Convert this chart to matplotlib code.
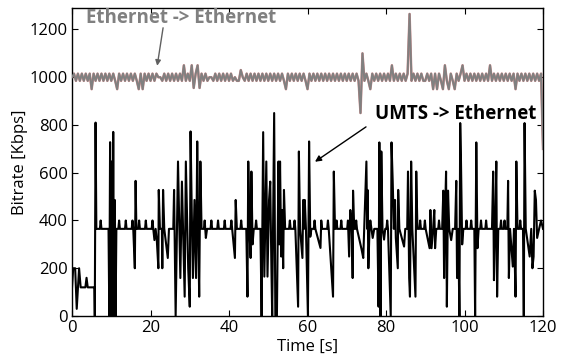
import numpy as np
import matplotlib.pyplot as plt

# Ethernet -> Ethernet, sampled every 0.5 s (Kbps)
eth_kbps = [
    1000, 1015, 985, 1015, 985, 1015, 985, 1015, 985, 1015, 950, 1015, 985, 1015, 985, 1015, 985, 1015, 985, 1015,
    985, 1015, 985, 950, 1015, 985, 1015, 985, 1015, 985, 1015, 985, 1015, 985, 950, 1015, 950, 1015, 985, 1015,
    985, 1015, 985, 1015, 1000, 1000, 985, 1015, 985, 1015, 985, 1015, 985, 1015, 985, 1015, 985, 1050, 985, 1015,
    985, 1050, 955, 1015, 1050, 955, 1015, 985, 1015, 985, 1000, 1000, 985, 1015, 985, 1015, 985, 1015, 985, 1015,
    985, 1015, 985, 1000, 985, 985, 1030, 1000, 985, 1015, 985, 1015, 985, 1015, 985, 1015, 985, 1015, 985, 1015,
    985, 1015, 985, 1015, 985, 1015, 985, 1015, 985, 950, 1015, 985, 1015, 985, 1015, 985, 1015, 985, 1015, 985,
    950, 1015, 985, 1015, 985, 1015, 985, 1015, 985, 1015, 985, 1015, 985, 1015, 985, 1015, 985, 1015, 985, 1015,
    985, 1015, 985, 1015, 985, 1015, 985, 850, 1100, 985, 1015, 985, 950, 1015, 985, 1015, 985, 1015, 985, 1015,
    985, 1015, 985, 1050, 985, 1015, 985, 1015, 985, 1015, 985, 1015, 1265, 985, 1015, 985, 1015, 985, 1015, 985,
    985, 1015, 985, 1015, 950, 1015, 950, 1015, 985, 950, 1050, 985, 950, 1015, 985, 950, 1015, 985, 1015, 1050,
    985, 1015, 985, 1015, 985, 1015, 985, 1015, 985, 1015, 985, 1015, 985, 1050, 985, 1015, 985, 1015, 985, 1015,
    985, 1015, 985, 1015, 985, 1015, 950, 1015, 985, 1015, 985, 1015, 985, 1015, 985, 1015, 985, 1015, 985, 1015,
    700,
]
eth_t = np.arange(len(eth_kbps)) * 0.5

# UMTS -> Ethernet, (time [s], bitrate [Kbps])
umts_points = [
    (0, 120), (0.3, 200), (0.8, 200), (1.2, 30), (1.8, 200), (2.2, 120), (3.4, 120), (3.7, 160), (4.0, 120),
    (5.7, 120), (5.8, 0), (6.0, 810), (6.2, 365),
    (7.1, 365), (7.3, 400), (7.5, 365),
    (9.3, 365), (9.5, 0), (9.7, 728), (9.9, 0), (10.1, 647), (10.3, 0), (10.5, 771), (10.7, 0), (10.9, 486),
    (11.1, 0), (11.3, 365),
    (11.8, 365), (12.0, 400), (12.2, 365), (13.5, 365), (13.7, 400), (13.9, 365), (15.2, 365), (15.4, 400),
    (15.6, 365), (16.0, 200), (16.2, 566), (16.4, 365),
    (16.9, 365), (17.1, 400), (17.3, 365), (18.6, 365), (18.8, 400), (19.0, 365), (20.3, 365), (20.5, 400),
    (20.7, 365), (21.0, 318), (21.3, 365), (21.6, 318),
    (22.0, 200), (22.1, 528), (22.4, 365), (22.9, 365), (23.0, 200), (23.2, 528), (23.5, 365), (24.4, 243),
    (24.7, 365), (25.8, 365), (26.0, 528), (26.4, 0), (27.0, 647), (27.6, 159), (28.0, 563), (28.7, 81),
    (29.0, 647), (29.6, 200), (30.0, 39), (30.2, 773), (30.5, 444), (30.8, 159), (31.2, 486), (31.6, 159),
    (31.9, 731), (32.2, 300), (32.4, 81), (32.7, 647), (33.0, 365),
    (33.6, 365), (33.8, 400), (34.1, 327), (34.4, 365), (35.3, 365), (35.5, 400), (35.7, 365), (37.0, 365),
    (37.2, 400), (37.4, 365), (38.7, 365), (38.9, 400), (39.1, 365), (40.4, 365), (40.6, 400), (40.8, 365),
    (41.5, 243), (41.7, 486), (42.0, 365), (42.9, 365), (43.1, 400), (43.3, 365),
    (44.4, 365), (44.7, 81), (44.9, 647), (45.2, 365), (45.5, 243), (45.7, 605), (46.0, 300), (46.3, 365),
    (46.7, 365), (46.9, 400), (47.1, 365),
    (48.0, 365), (48.3, 0), (48.7, 770), (49.0, 165), (49.5, 647), (49.8, 165), (50.2, 486), (50.5, 563),
    (50.8, 200), (51.0, 0), (51.5, 850), (51.8, 0), (52.2, 0), (52.6, 647), (52.8, 300), (53.0, 647),
    (53.3, 249), (53.5, 444), (53.8, 200), (54.0, 528), (54.3, 365),
    (55.3, 365), (55.5, 400), (55.7, 365), (56.5, 365), (56.7, 400), (56.9, 365),
    (57.6, 39), (57.8, 689), (58.1, 365), (58.7, 243), (58.9, 486), (59.1, 365), (59.3, 486), (59.6, 365),
    (60.1, 0), (60.4, 731), (60.7, 332), (61.0, 365),
    (61.6, 365), (61.8, 400), (62.0, 365), (63.3, 285), (63.5, 400), (63.7, 365), (65.0, 365), (65.2, 400),
    (65.4, 365), (66.5, 81), (66.7, 605), (67.0, 365), (67.2, 365), (67.4, 400), (67.6, 365),
    (68.4, 365), (68.6, 400), (68.8, 365), (70.1, 365), (70.3, 400), (70.6, 249), (70.9, 444), (71.3, 365),
    (71.5, 159), (71.6, 525), (71.9, 365), (72.2, 365), (72.4, 400), (72.6, 365),
    (73.8, 277), (74.2, 243), (75.0, 647), (75.2, 365), (75.3, 528), (75.5, 200), (75.8, 365), (76.0, 400),
    (76.3, 365), (76.6, 327), (77.0, 365),
    (77.8, 365), (78.1, 39), (78.3, 727), (78.6, 0), (78.8, 689), (79.1, 365), (79.5, 320), (79.8, 365),
    (80.1, 365), (80.3, 400), (80.5, 365), (81.2, 0), (81.4, 727), (81.7, 566), (82.0, 365), (82.3, 486),
    (82.5, 327), (83.0, 200), (83.1, 528), (83.4, 365), (84.6, 291), (84.9, 365),
    (85.4, 365), (85.6, 605), (85.9, 159), (86.1, 81), (86.4, 647), (86.7, 365), (87.5, 81), (87.7, 605),
    (88.0, 365), (88.5, 365), (88.7, 400), (88.9, 365), (89.7, 365), (89.9, 400), (90.1, 365),
    (91.1, 284), (91.3, 444), (91.6, 284), (92.0, 365), (92.3, 444), (92.5, 284), (92.8, 365),
    (93.3, 365), (93.5, 400), (93.7, 365), (94.3, 365), (94.6, 525), (94.8, 159), (95.0, 400), (95.3, 605),
    (95.5, 39), (95.8, 525), (96.1, 365), (96.6, 318), (97.0, 365),
    (97.6, 365), (97.9, 566), (98.1, 159), (98.4, 365), (98.7, 0), (98.9, 808), (99.1, 647), (99.4, 300),
    (99.7, 365), (100.3, 365), (100.5, 400), (100.7, 365), (101.5, 365), (101.7, 400), (101.9, 365),
    (102.5, 365), (102.7, 0), (103.0, 727), (103.3, 284), (103.6, 365),
    (104.0, 365), (104.2, 400), (104.4, 365), (105.3, 365), (105.5, 400), (105.7, 365),
    (107.0, 365), (107.3, 605), (107.5, 150), (107.8, 365), (108.1, 647), (108.3, 81), (108.6, 365),
    (109.1, 365), (109.3, 400), (109.5, 365), (110.0, 365), (110.2, 400), (110.4, 365),
    (110.9, 365), (111.1, 566), (111.3, 159), (111.6, 365), (112.3, 207), (112.6, 365), (113.0, 81),
    (113.2, 647), (113.5, 365), (114.0, 365), (114.2, 400), (114.4, 365),
    (114.9, 365), (115.1, 0), (115.3, 808), (115.6, 365), (116.6, 249), (117.0, 365), (117.3, 200),
    (117.6, 249), (117.9, 525), (118.2, 486), (118.5, 327), (119.0, 365), (119.5, 400), (120.0, 365),
]
umts_t = [p[0] for p in umts_points]
umts_kbps = [p[1] for p in umts_points]

plt.rcParams['font.family'] = ['Open Sans', 'DejaVu Sans']

fig = plt.figure(figsize=(5.64, 3.58), dpi=100)
ax = fig.add_axes([0.1277, 0.1173, 0.8351, 0.8604])

ax.plot(eth_t, eth_kbps, color='#d08a8a', lw=1.8, zorder=2)
ax.plot(eth_t, eth_kbps, color='#808080', lw=1.4, zorder=3)
ax.plot(umts_t, umts_kbps, color='black', lw=1.5, zorder=4)

ax.set_xlim(0, 120)
ax.set_ylim(0, 1290)
ax.set_xticks(np.arange(0, 121, 20))
ax.set_yticks(np.arange(0, 1201, 200))
ax.tick_params(direction='in', length=4, top=True, right=True, labelsize=12, pad=3)
for s in ax.spines.values():
    s.set_linewidth(1.0)

ax.set_xlabel('Time [s]', fontsize=12, labelpad=2)
ax.set_ylabel('Bitrate [Kbps]', fontsize=12, labelpad=1)

ax.text(27.8, 1250, 'Ethernet -> Ethernet', ha='center', va='center', fontsize=13.5,
        fontweight='bold', color='#808080', zorder=6)
ax.annotate('', xy=(21.7, 1048), xytext=(23.2, 1207),
            arrowprops=dict(arrowstyle='-|>', color='#606060', lw=1.0, mutation_scale=8,
                            shrinkA=0, shrinkB=0))
ax.text(97.8, 847, 'UMTS -> Ethernet', ha='center', va='center', fontsize=13.5,
        fontweight='bold', color='black', zorder=6)
ax.annotate('', xy=(61.9, 646), xytext=(74.9, 792),
            arrowprops=dict(arrowstyle='-|>', color='black', lw=1.0, mutation_scale=9,
                            shrinkA=0, shrinkB=0), zorder=6)

fig.savefig('out.png', dpi=100)
